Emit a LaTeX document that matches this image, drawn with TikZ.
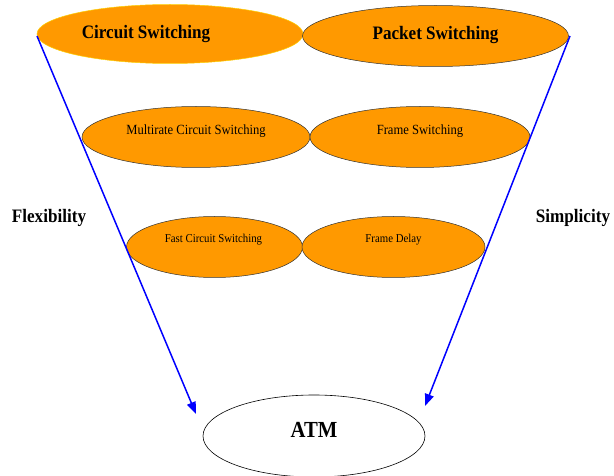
\documentclass[tikz,border=0pt]{standalone}
\usepackage{fontspec}
\setmainfont{Liberation Serif}[FakeStretch=0.9]
\usetikzlibrary{shapes.geometric,arrows.meta}
\definecolor{orng}{RGB}{255,153,0}
\definecolor{arblue}{RGB}{0,0,255}
\tikzset{
  oval/.style={ellipse, fill=orng, draw=black!80, line width=0.5pt, inner sep=0pt},
  arr/.style={draw=arblue, line width=1.5pt, -{Triangle[length=12pt,width=9pt]}},
  side/.style={font=\fontsize{19}{22}\selectfont\bfseries},
  big/.style={font=\fontsize{19}{22}\selectfont\bfseries},
  mid/.style={font=\fontsize{14}{16}\selectfont},
  sml/.style={font=\fontsize{12}{14}\selectfont},
}
\begin{document}
\begin{tikzpicture}[x=1pt,y=-1pt]
\useasboundingbox (0,0) rectangle (614,476);
\node[oval, draw=yellow!60!orng, minimum width=266pt, minimum height=59pt] (cs) at (170,34) {};
\node[oval, minimum width=266pt, minimum height=61pt] (ps) at (435.5,36) {};
\node[oval, minimum width=228pt, minimum height=61pt] (mcs) at (196,137) {};
\node[oval, minimum width=220pt, minimum height=61pt] (fs) at (420,137) {};
\node[oval, minimum width=176pt, minimum height=61pt] (fcs) at (214.5,247) {};
\node[oval, minimum width=183pt, minimum height=61pt] (fd) at (393.5,247) {};
\node[ellipse, draw=black, line width=0.6pt, minimum width=222pt, minimum height=82pt, inner sep=0pt] (atm) at (314,436) {};
\node[big] (tcs) at ([xshift=-24pt,yshift=0pt]cs.center) {Circuit Switching};
\node[big] (tps) at ([yshift=1pt]ps.center) {Packet Switching};
\node[mid] (tmcs) at ([yshift=6pt]mcs.center) {Multirate Circuit Switching};
\node[mid] (tfs) at ([yshift=6pt]fs.center) {Frame Switching};
\node[sml] (tfcs) at ([xshift=-1pt,yshift=7pt]fcs.center) {Fast Circuit Switching};
\node[sml] (tfd) at ([yshift=7pt]fd.center) {Frame Delay};
\node[font=\fontsize{23}{26}\selectfont\bfseries] (tatm) at ([yshift=6pt]atm.center) {ATM};
\node[side] (flex) at (49,218) {Flexibility};
\node[side] (simp) at (573,218) {Simplicity};
\coordinate (lt) at (37,36);
\coordinate (rt) at (570,36);
\coordinate (lh) at (196,414);
\coordinate (rh) at (425,406);
\draw[arr] (lt) -- (lh);
\draw[arr] (rt) -- (rh);
\end{tikzpicture}
\end{document}
